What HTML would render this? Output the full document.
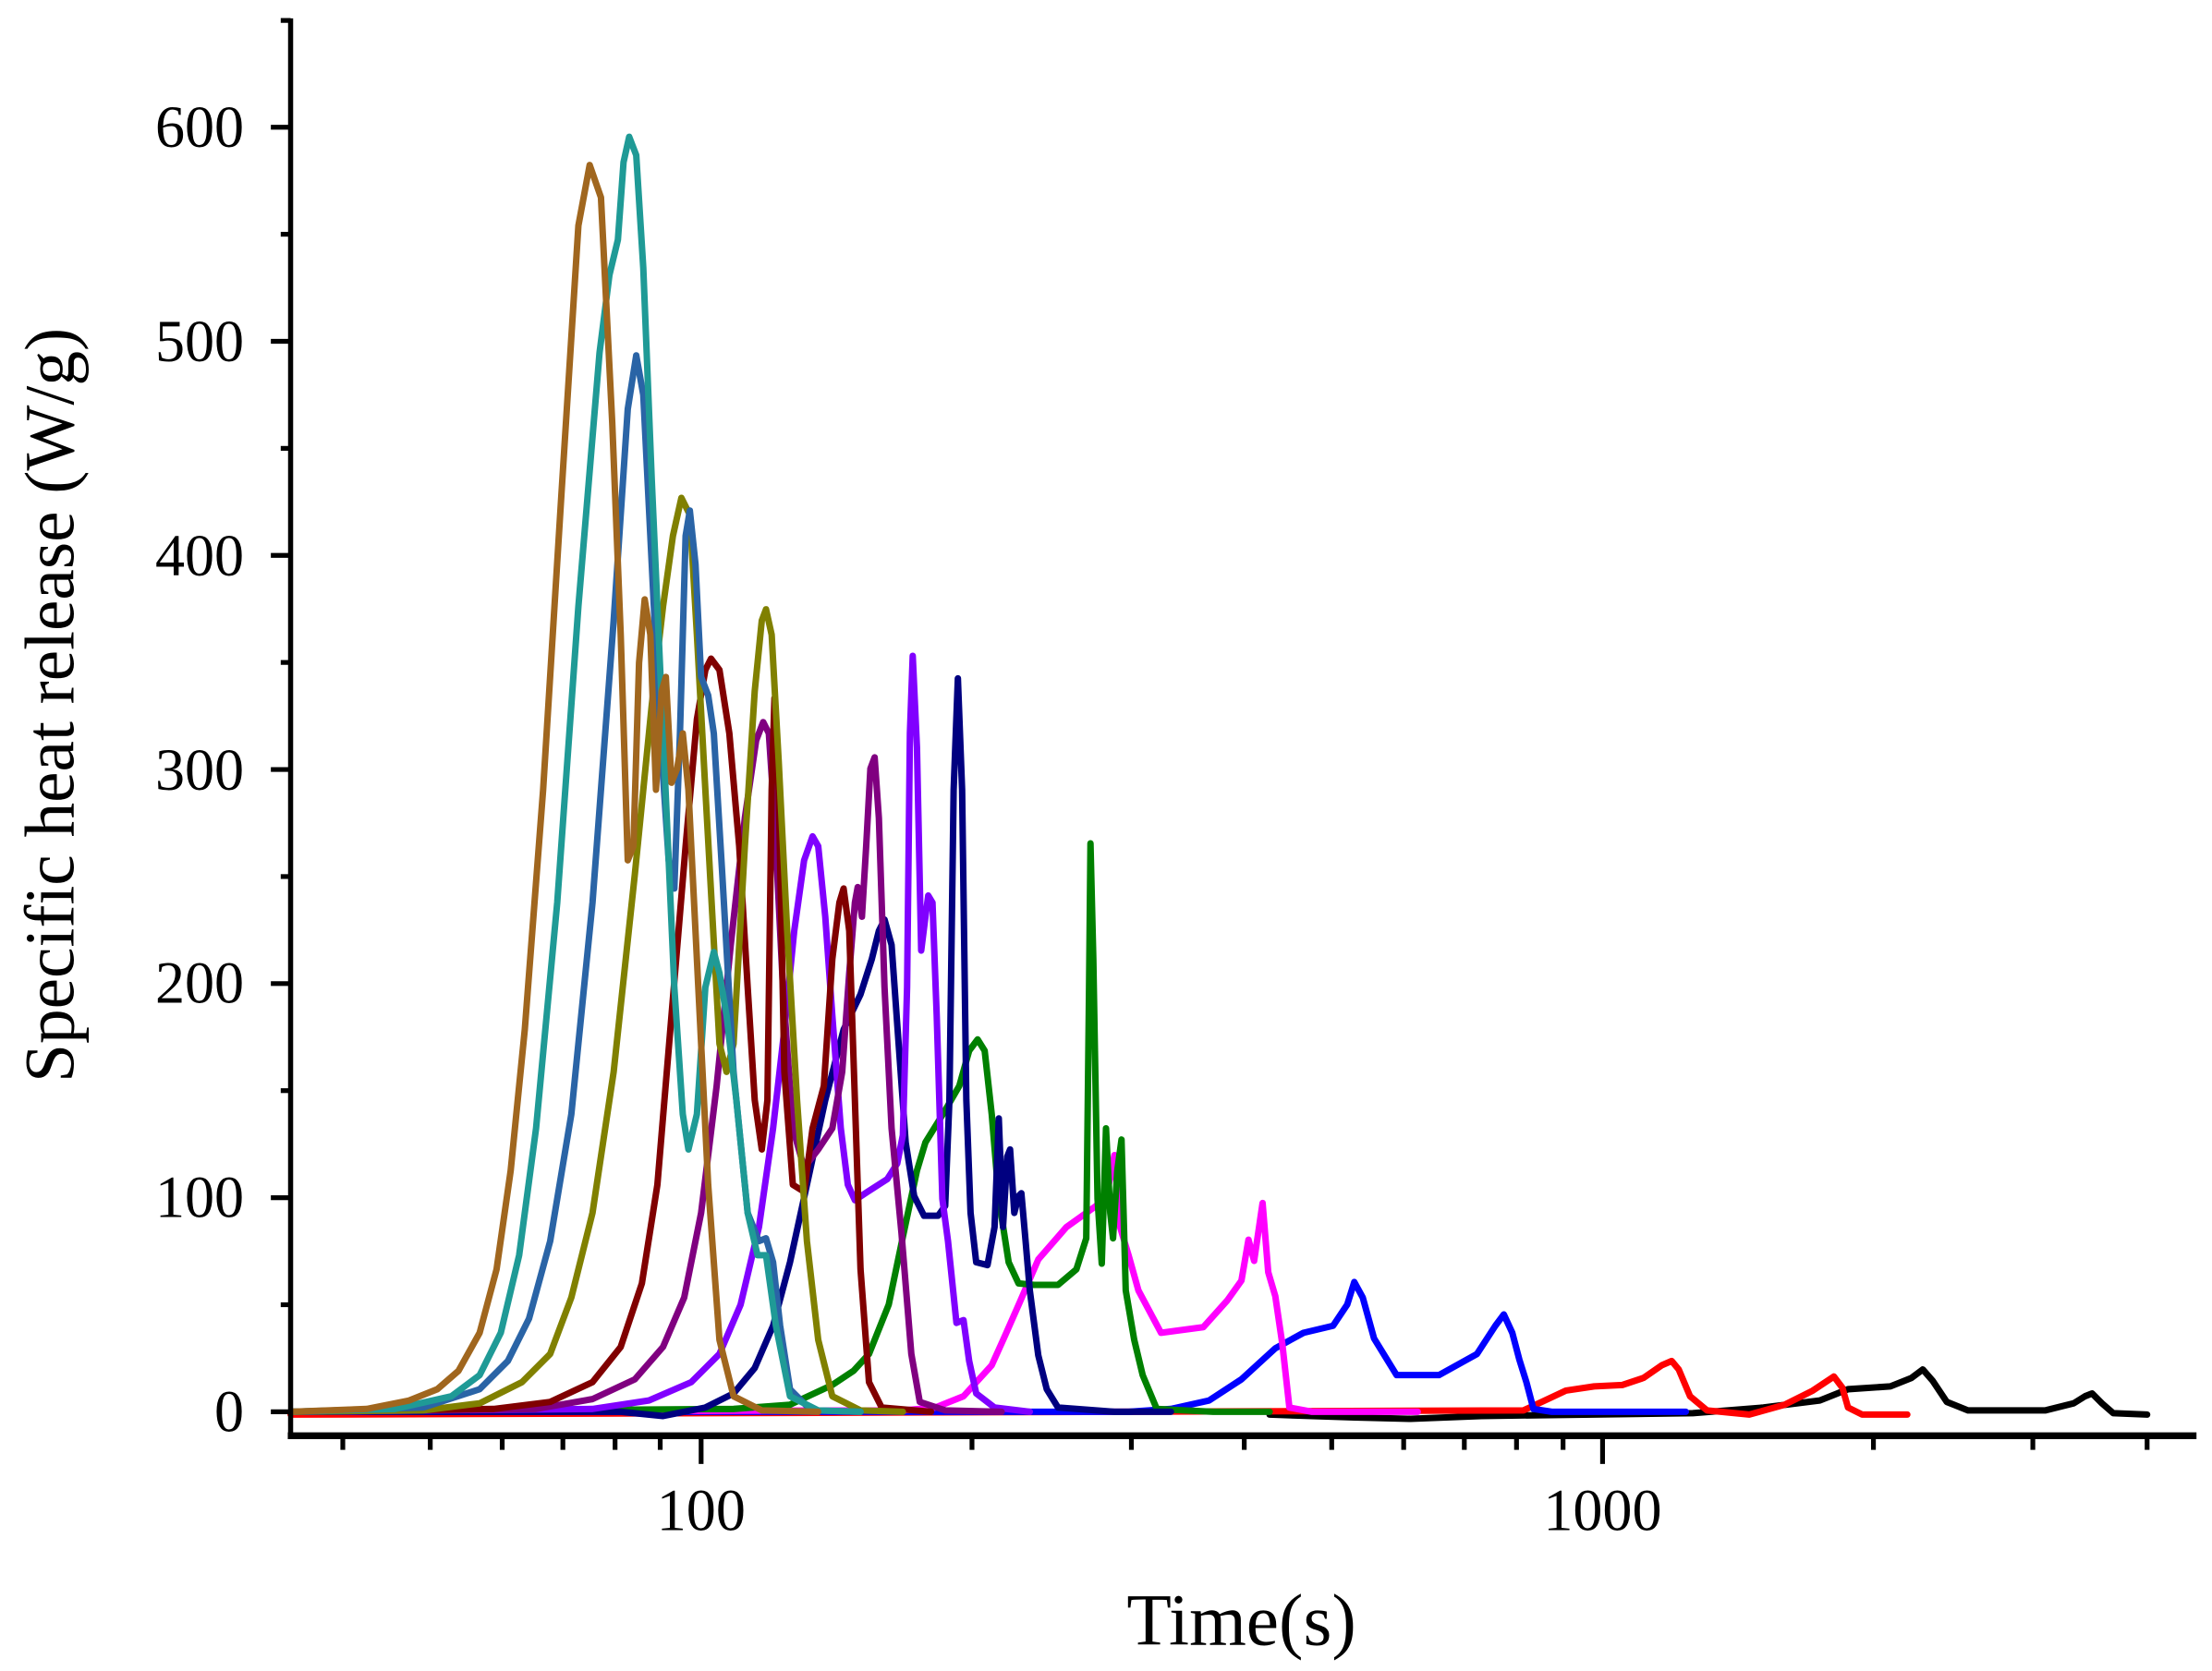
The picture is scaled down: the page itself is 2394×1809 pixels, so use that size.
<!DOCTYPE html>
<html><head><meta charset="utf-8"><style>
html,body{margin:0;padding:0;background:#fff;}
svg{display:block;}
</style></head><body>
<svg width="2394" height="1809" viewBox="0 0 1568 1184.8" preserveAspectRatio="none" xmlns="http://www.w3.org/2000/svg">
<rect x="0" y="0" width="1568" height="1185" fill="#fff"/>
<g fill="none" stroke-width="4.6" stroke-linejoin="round" stroke-linecap="round">
<path stroke="#000" d="M900,1003 L960,1005 1000,1006 1050,1004 1200,1002 1250,998 1290,993 1310,985 1340,983 1355,977 1363,971 1370,979 1380,994 1395,1000 1450,1000 1470,995 1478,990 1483,988 1490,995 1498,1002 1522,1003"/>
<path stroke="#ff0000" d="M206,1003 L1080,1000 1095,993 1110,986 1130,983 1150,982 1165,977 1178,968 1185,965 1190,971 1198,990 1210,1000 1240,1003 1265,996 1285,986 1300,976 1306,984 1310,998 1320,1003 1352,1003"/>
<path stroke="#0000ff" d="M206,1001 L800,1001 830,999 857,993 880,978 904,956 924,945 945,940 955,925 960,909 966,920 974,949 990,975 1020,975 1047,960 1060,940 1066,932 1072,945 1077,964 1082,980 1087,999 1100,1001 1195,1001"/>
<path stroke="#ff00ff" d="M206,1001 L640,1000 663,998 683,990 703,968 712,948 723,923 736,893 756,870 777,855 785,845 790,819 794,870 800,890 807,915 823,945 853,941 870,922 880,908 885,879 889,894 895,853 899,902 904,919 909,953 914,998 930,1001 1005,1001"/>
<path stroke="#008000" d="M206,1001 L520,999 560,996 590,982 605,972 616,960 630,925 640,877 650,830 656,810 669,789 680,770 687,745 693,737 698,745 703,790 708,850 715,895 722,910 733,911 750,911 763,900 770,878 772,700 773,598 775,680 778,850 781,896 784,800 787,860 789,878 792,830 795,808 798,915 804,950 810,975 820,999 860,1001 900,1001"/>
<path stroke="#000080" d="M206,1001 L440,1001 470,1004 500,998 520,988 535,970 548,940 560,895 572,840 585,780 598,730 610,705 618,680 623,660 627,652 632,670 637,740 642,810 648,848 655,862 665,862 670,855 673,780 676,560 679,481 682,560 685,780 688,860 692,895 700,897 705,870 708,793 711,870 714,820 716,815 719,860 722,848 724,846 727,880 730,915 736,961 742,985 750,998 790,1001 830,1001"/>
<path stroke="#8000ff" d="M206,1001 L420,999 460,993 490,980 510,960 525,925 538,870 548,800 556,730 563,660 570,610 576,593 580,600 585,650 590,720 596,800 601,840 606,851 615,845 629,836 636,825 640,805 643,700 645,520 647,465 650,530 653,674 656,650 658,635 661,640 664,720 668,850 672,880 678,938 683,936 687,965 692,988 705,998 730,1001"/>
<path stroke="#800080" d="M206,1001 L380,999 420,992 450,978 470,955 485,920 497,860 508,770 518,670 528,580 536,525 541,512 545,520 549,580 555,700 562,800 570,828 580,815 590,800 597,760 602,690 606,640 608,629 611,650 614,600 617,545 620,537 623,580 627,700 632,800 639,874 646,960 652,994 670,1000 710,1001"/>
<path stroke="#800000" d="M206,1001 L350,999 390,994 420,980 440,955 455,910 466,840 476,720 486,600 494,510 500,475 504,467 510,475 517,520 524,600 530,700 535,780 540,815 544,780 547,560 549,495 552,560 556,760 562,840 570,845 576,800 580,785 584,770 590,680 595,640 598,630 602,660 606,780 610,900 616,980 625,998 660,1001"/>
<path stroke="#808000" d="M206,1001 L300,1000 340,995 370,980 390,960 405,920 420,860 435,760 450,620 462,500 470,430 477,380 483,353 489,365 494,450 500,560 505,650 510,740 515,760 520,740 528,600 535,490 540,440 543,432 547,450 552,540 558,660 565,780 572,880 580,950 590,990 610,1000 640,1001"/>
<path stroke="#2a64a6" d="M206,1001 L300,998 340,985 360,965 375,935 390,880 405,790 420,640 435,440 445,290 451,252 456,280 462,400 468,520 474,610 478,630 482,520 486,380 489,362 493,400 497,480 502,493 506,520 512,620 520,760 530,860 538,880 543,878 548,895 553,940 560,985 575,1000 610,1001"/>
<path stroke="#1f9a96" d="M206,1001 L280,999 320,990 340,975 355,945 368,890 380,800 395,640 410,430 425,250 432,195 438,170 442,115 446,97 451,110 456,190 462,340 470,520 478,700 484,790 488,815 494,790 500,700 506,675 510,690 515,720 522,780 530,860 537,890 543,890 550,940 560,990 580,1000 610,1001"/>
<path stroke="#a0661e" d="M206,1001 L260,999 290,993 310,985 325,972 340,945 352,900 362,830 372,730 385,560 398,350 410,160 418,117 426,140 434,300 440,450 445,610 449,600 453,470 457,425 461,450 465,560 469,490 472,480 476,555 480,545 484,520 488,560 495,700 502,840 510,950 520,990 540,1000 580,1001"/>
</g>
<g stroke="#000" fill="none">
<line x1="206" y1="13" x2="206" y2="1020" stroke-width="3.6"/>
<line x1="204" y1="1018" x2="1557" y2="1018" stroke-width="4.8"/>
<g stroke-width="3.4">
<line x1="192" y1="1001" x2="206" y2="1001"/><line x1="192" y1="849.2" x2="206" y2="849.2"/><line x1="192" y1="697.4" x2="206" y2="697.4"/><line x1="192" y1="545.6" x2="206" y2="545.6"/><line x1="192" y1="393.8" x2="206" y2="393.8"/><line x1="192" y1="242" x2="206" y2="242"/><line x1="192" y1="90.2" x2="206" y2="90.2"/>
<line x1="199" y1="925.1" x2="206" y2="925.1"/><line x1="199" y1="773.3" x2="206" y2="773.3"/><line x1="199" y1="621.5" x2="206" y2="621.5"/><line x1="199" y1="469.7" x2="206" y2="469.7"/><line x1="199" y1="317.9" x2="206" y2="317.9"/><line x1="199" y1="166.1" x2="206" y2="166.1"/><line x1="199" y1="14.5" x2="206" y2="14.5"/>
<line x1="497" y1="1018" x2="497" y2="1038"/><line x1="1136" y1="1018" x2="1136" y2="1038"/>
<line x1="243" y1="1018" x2="243" y2="1028"/><line x1="305" y1="1018" x2="305" y2="1028"/><line x1="356" y1="1018" x2="356" y2="1028"/><line x1="399" y1="1018" x2="399" y2="1028"/><line x1="436" y1="1018" x2="436" y2="1028"/><line x1="468" y1="1018" x2="468" y2="1028"/>
<line x1="689" y1="1018" x2="689" y2="1028"/><line x1="802" y1="1018" x2="802" y2="1028"/><line x1="882" y1="1018" x2="882" y2="1028"/><line x1="944" y1="1018" x2="944" y2="1028"/><line x1="995" y1="1018" x2="995" y2="1028"/><line x1="1038" y1="1018" x2="1038" y2="1028"/><line x1="1075" y1="1018" x2="1075" y2="1028"/><line x1="1108" y1="1018" x2="1108" y2="1028"/>
<line x1="1328" y1="1018" x2="1328" y2="1028"/><line x1="1441" y1="1018" x2="1441" y2="1028"/><line x1="1522" y1="1018" x2="1522" y2="1028"/>
</g>
</g>
<g font-family="Liberation Serif, serif" font-size="42" fill="#000" text-anchor="end">
<text x="173" y="1015">0</text><text x="173" y="863">100</text><text x="173" y="711">200</text><text x="173" y="560">300</text><text x="173" y="408">400</text><text x="173" y="256">500</text><text x="173" y="104">600</text>
</g>
<g font-family="Liberation Serif, serif" font-size="42" fill="#000" text-anchor="middle">
<text x="497" y="1085">100</text><text x="1136" y="1085">1000</text>
</g>
<text x="880" y="1166" font-family="Liberation Serif, serif" font-size="52" text-anchor="middle" fill="#000">Time(s)</text>
<text transform="translate(52,500) rotate(-90)" font-family="Liberation Serif, serif" font-size="50" text-anchor="middle" fill="#000" textLength="535" lengthAdjust="spacingAndGlyphs">Specific heat release (W/g)</text>
</svg>
</body></html>
